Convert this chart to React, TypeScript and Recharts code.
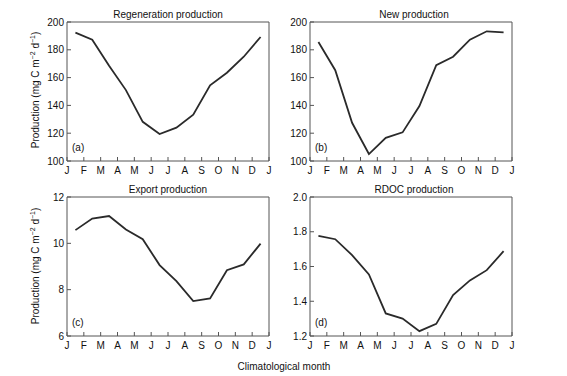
import React from "react";
import { LineChart, Line, XAxis, YAxis } from "recharts";

const monthPos = [0.5, 1.5, 2.5, 3.5, 4.5, 5.5, 6.5, 7.5, 8.5, 9.5, 10.5, 11.5];
const monthTicks = [0, 1, 2, 3, 4, 5, 6, 7, 8, 9, 10, 11, 12];
const monthLetters = ["J", "F", "M", "A", "M", "J", "J", "A", "S", "O", "N", "D", "J"];

const regeneration = [192.3, 187.3, 168.5, 151, 128.2, 119.4, 124, 133.3, 154.5, 163.5, 175, 189.2];
const newProd = [185.6, 165.3, 127.5, 105, 116.7, 120.6, 139.5, 169, 175, 187.3, 193.3, 192.6];
const exportProd = [10.57, 11.07, 11.18, 10.6, 10.18, 9.06, 8.37, 7.51, 7.62, 8.84, 9.09, 9.99];
const rdoc = [1.776, 1.757, 1.665, 1.554, 1.33, 1.3, 1.228, 1.27, 1.435, 1.52, 1.579, 1.688];

const prodTicks = [100, 120, 140, 160, 180, 200];
const exportTicks = [6, 8, 10, 12];
const rdocTicks = [1.2, 1.4, 1.6, 1.8, 2.0];

const titles = ["Regeneration production", "New production", "Export production", "RDOC production"];
const panelTags = ["(a)", "(b)", "(c)", "(d)"];

const FONT = "'Liberation Sans', Arial, sans-serif";
const FRAME = "#555";
const LINE = "#2a2a2a";

type PanelProps = {
  values: number[];
  domain: [number, number];
  ticks: number[];
  fmt?: (v: number) => string;
  width: number;
  height: number;
  margin: { top: number; right: number; bottom: number; left: number };
  yWidth: number;
};

function Panel({ values, domain, ticks, fmt, width, height, margin, yWidth }: PanelProps) {
  const data = monthPos.map((m, i) => ({ m, v: values[i] }));
  const tickStyle = { fontSize: 10, fill: "#111", fontFamily: FONT };
  return (
    <LineChart width={width} height={height} data={data} margin={margin}>
      <XAxis
        xAxisId="b"
        dataKey="m"
        type="number"
        domain={[0, 12]}
        ticks={monthTicks}
        tickFormatter={(v: number) => monthLetters[v]}
        interval={0}
        height={15}
        tickSize={-4}
        tickMargin={10}
        stroke={FRAME}
        tick={tickStyle}
      />
      <XAxis
        xAxisId="t"
        orientation="top"
        type="number"
        domain={[0, 12]}
        ticks={monthTicks}
        interval={0}
        height={1}
        tickSize={-4}
        tick={false}
        stroke={FRAME}
      />
      <YAxis
        yAxisId="l"
        type="number"
        domain={domain}
        ticks={ticks}
        interval={0}
        width={yWidth}
        tickSize={-4}
        tickMargin={7}
        stroke={FRAME}
        tick={tickStyle}
        tickFormatter={fmt}
      />
      <YAxis
        yAxisId="r"
        orientation="right"
        type="number"
        domain={domain}
        ticks={ticks}
        interval={0}
        width={1}
        tickSize={-4}
        tick={false}
        stroke={FRAME}
      />
      <Line
        xAxisId="b"
        yAxisId="l"
        dataKey="v"
        stroke={LINE}
        strokeWidth={1.8}
        dot={false}
        isAnimationActive={false}
      />
    </LineChart>
  );
}

function YLabel({ cx, cy }: { cx: number; cy: number }) {
  return (
    <text
      transform={`translate(${cx},${cy}) rotate(-90)`}
      textAnchor="middle"
      fontSize={10}
      fontFamily={FONT}
      fill="#111"
    >
      Production (mg C m
      <tspan dy={-4} fontSize={7}>−2</tspan>
      <tspan dy={4}> d</tspan>
      <tspan dy={-4} fontSize={7}>−1</tspan>
      <tspan dy={4}>)</tspan>
    </text>
  );
}

export default function App() {
  const txt = { fontSize: 10, fontFamily: FONT, fill: "#111" };
  return (
    <div style={{ position: "absolute", left: 0, top: 0, width: 567, height: 376, background: "#fff" }}>
      <div style={{ position: "absolute", left: 0, top: 0 }}>
        <Panel values={regeneration} domain={[100, 200]} ticks={prodTicks}
          width={283} height={180} margin={{ top: 21, right: 13, bottom: 4, left: 37 }} yWidth={30} />
      </div>
      <div style={{ position: "absolute", left: 283, top: 0 }}>
        <Panel values={newProd} domain={[100, 200]} ticks={prodTicks}
          width={284} height={180} margin={{ top: 21, right: 54, bottom: 4, left: 0 }} yWidth={27} />
      </div>
      <div style={{ position: "absolute", left: 0, top: 180 }}>
        <Panel values={exportProd} domain={[6, 12]} ticks={exportTicks}
          width={283} height={180} margin={{ top: 16, right: 13, bottom: 9, left: 37 }} yWidth={30} />
      </div>
      <div style={{ position: "absolute", left: 283, top: 180 }}>
        <Panel values={rdoc} domain={[1.2, 2.0]} ticks={rdocTicks} fmt={(v: number) => v.toFixed(1)}
          width={284} height={180} margin={{ top: 16, right: 54, bottom: 9, left: 0 }} yWidth={27} />
      </div>
      <svg width={567} height={376} style={{ position: "absolute", left: 0, top: 0, pointerEvents: "none" }}>
        <text x={168} y={17.5} textAnchor="middle" {...txt}>{titles[0]}</text>
        <text x={414} y={17.5} textAnchor="middle" {...txt}>{titles[1]}</text>
        <text x={168} y={192.5} textAnchor="middle" {...txt}>{titles[2]}</text>
        <text x={414} y={192.5} textAnchor="middle" {...txt}>{titles[3]}</text>
        <text x={72} y={151} {...txt}>{panelTags[0]}</text>
        <text x={315} y={151} {...txt}>{panelTags[1]}</text>
        <text x={72} y={326} {...txt}>{panelTags[2]}</text>
        <text x={315} y={326} {...txt}>{panelTags[3]}</text>
        <YLabel cx={39} cy={90} />
        <YLabel cx={39} cy={266} />
        <text x={284} y={369.5} textAnchor="middle" {...txt}>Climatological month</text>
      </svg>
    </div>
  );
}
